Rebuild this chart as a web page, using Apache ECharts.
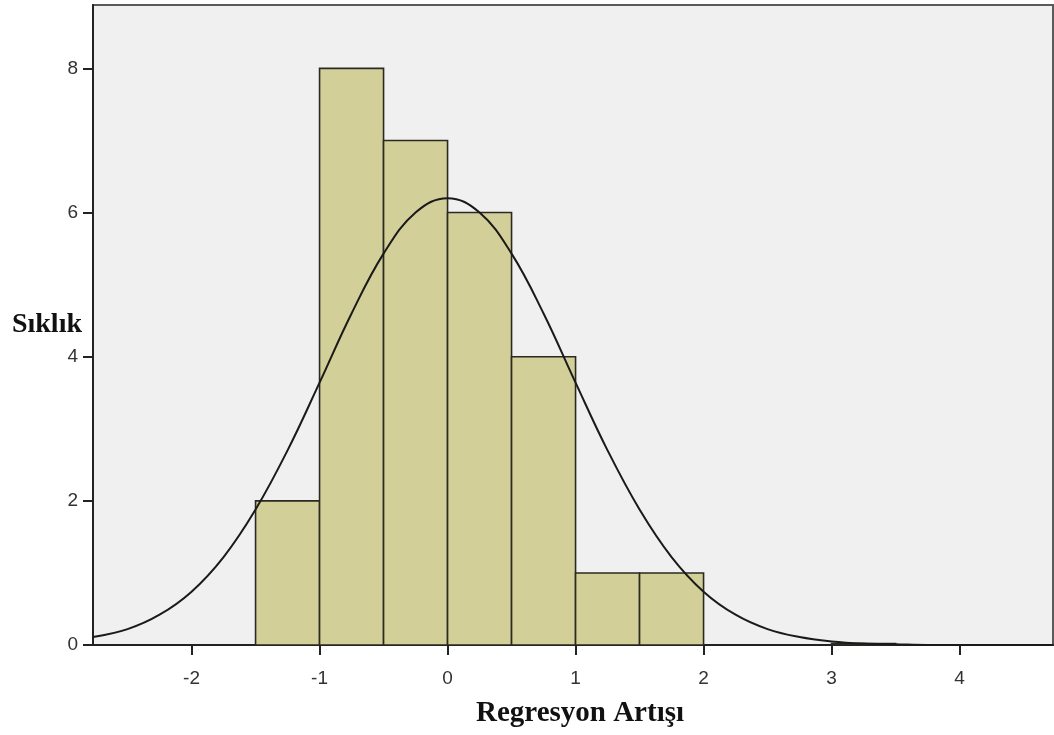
<!DOCTYPE html>
<html>
<head>
<meta charset="utf-8">
<script src="https://cdn.jsdelivr.net/npm/echarts@6/dist/echarts.min.js"></script>
<style>
html,body{margin:0;padding:0;background:#fff;}
#c{width:1054px;height:735px;}
</style>
</head>
<body>
<div id="c"></div>
<script>
// Histogram bins (start, end) and counts
const binStarts = [-1.5, -1.0, -0.5, 0.0, 0.5, 1.0, 1.5, 3.0];
const binEnds   = [-1.0, -0.5, 0.0, 0.5, 1.0, 1.5, 2.0, 3.5];
const counts    = [2, 8, 7, 6, 4, 1, 1, 0.02];

// Normal curve
const curveX = [-2.77, -2.5, -2.25, -2.0, -1.75, -1.5, -1.25, -1.0, -0.75, -0.5, -0.25, 0.0,
                0.25, 0.5, 0.75, 1.0, 1.25, 1.5, 1.75, 2.0, 2.25, 2.5, 2.75, 3.0, 3.25, 3.5, 3.75, 4.0, 4.5, 4.73];
const curveY = [0.11, 0.22, 0.42, 0.74, 1.22, 1.88, 2.70, 3.64, 4.60, 5.43, 6.00, 6.20,
                6.00, 5.43, 4.60, 3.64, 2.70, 1.88, 1.22, 0.74, 0.42, 0.22, 0.11, 0.05, 0.02, 0.01, 0.0, 0.0, 0.0, 0.0];

const xTicks = [-2, -1, 0, 1, 2, 3, 4];
const yTicks = [0, 2, 4, 6, 8];

const barData = binStarts.map((s, i) => [s, binEnds[i], counts[i]]);
const lineData = curveX.map((x, i) => [x, curveY[i]]);

const chart = echarts.init(document.getElementById('c'));
chart.setOption({
  animation: false,
  backgroundColor: '#ffffff',
  grid: {
    left: 93, top: 5, right: 1, bottom: 90,
    outerBoundsMode: 'none', containLabel: false,
    show: true, backgroundColor: '#f0f0f0',
    borderColor: '#5a5a5a', borderWidth: 2
  },
  xAxis: {
    type: 'value', min: -2.77, max: 4.73,
    splitLine: { show: false },
    axisLine: { show: true, onZero: false, lineStyle: { color: '#222', width: 2 } },
    axisTick: { show: true, customValues: xTicks, length: 10, lineStyle: { color: '#222', width: 2 } },
    axisLabel: { customValues: xTicks, margin: 24, color: '#333', fontSize: 19, fontFamily: 'Liberation Sans, Arial, sans-serif' },
    name: 'Regresyon Artışı', nameLocation: 'middle', nameGap: 54, nameMoveOverlap: false,
    nameTextStyle: { fontFamily: 'Liberation Serif, Times New Roman, serif', fontWeight: 'bold', fontSize: 29, color: '#111', padding: [0, 0, 0, 14] }
  },
  yAxis: {
    type: 'value', min: 0, max: 8.88,
    splitLine: { show: false },
    axisLine: { show: true, onZero: false, lineStyle: { color: '#222', width: 2 } },
    axisTick: { show: true, customValues: yTicks, length: 10, lineStyle: { color: '#222', width: 2 } },
    axisLabel: { customValues: yTicks, margin: 15, color: '#333', fontSize: 19, fontFamily: 'Liberation Sans, Arial, sans-serif' },
    name: 'Sıklık', nameLocation: 'middle', nameRotate: 0, nameGap: 11, nameMoveOverlap: false,
    nameTextStyle: { fontFamily: 'Liberation Serif, Times New Roman, serif', fontWeight: 'bold', fontSize: 28, color: '#111', align: 'right', verticalAlign: 'middle' }
  },
  series: [
    {
      type: 'custom',
      data: barData,
      encode: { x: [0, 1], y: 2 },
      renderItem: function (params, api) {
        const p0 = api.coord([api.value(0), 0]);
        const p1 = api.coord([api.value(1), api.value(2)]);
        return {
          type: 'rect',
          shape: { x: p0[0], y: p1[1], width: p1[0] - p0[0], height: p0[1] - p1[1] },
          style: { fill: '#d3cf98', stroke: '#2a2a22', lineWidth: 1.6 }
        };
      },
      z: 2
    },
    {
      type: 'line',
      data: lineData,
      smooth: 0.4,
      showSymbol: false,
      lineStyle: { color: '#1a1a1a', width: 2 },
      z: 3
    }
  ]
});
</script>
</body>
</html>
